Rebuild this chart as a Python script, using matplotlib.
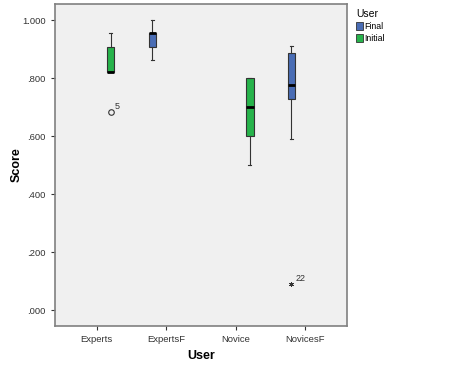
import matplotlib
matplotlib.use('Agg')
import matplotlib.pyplot as plt
from matplotlib.patches import Patch

plt.rcParams['font.family'] = ['Liberation Sans', 'DejaVu Sans']

# box stats
users = ['Experts', 'ExpertsF', 'Novice', 'NovicesF']
groups = ['Initial', 'Final', 'Initial', 'Final']
w_low = [0.821, 0.862, 0.499, 0.591]
q1 = [0.821, 0.908, 0.599, 0.728]
med = [0.821, 0.954, 0.701, 0.775]
q3 = [0.908, 0.956, 0.802, 0.885]
w_high = [0.954, 1.000, 0.802, 0.910]
outliers = [[0.683], [], [], [0.090]]
outlier_ids = [['5'], [], [], ['22']]
outlier_kind = ['o', None, None, '*']

yticks = [0.0, 0.2, 0.4, 0.6, 0.8, 1.0]
ytick_labels = ['.000', '.200', '.400', '.600', '.800', '1.000']

colors = {'Final': '#4a6db5', 'Initial': '#27b34b'}
offset = {'Final': -0.2, 'Initial': 0.2}

fig = plt.figure(figsize=(4.64, 3.72), dpi=100)
ax = fig.add_axes([0.1185, 0.1237, 0.6295, 0.865])
ax.set_facecolor('#f0f0f0')

for i in range(len(users)):
    g = groups[i]
    pos = i + offset[g]
    stats = [{'whislo': w_low[i], 'q1': q1[i], 'med': med[i],
              'q3': q3[i], 'whishi': w_high[i], 'fliers': []}]
    ax.bxp(stats, positions=[pos], widths=0.11, patch_artist=True,
           showfliers=False,
           boxprops=dict(facecolor=colors[g], edgecolor='#333333', linewidth=0.8),
           medianprops=dict(color='black', linewidth=2),
           whiskerprops=dict(color='#333333', linewidth=0.8),
           capprops=dict(color='#333333', linewidth=0.8), capwidths=0.05)
    for v, lab in zip(outliers[i], outlier_ids[i]):
        if outlier_kind[i] == 'o':
            ax.plot(pos, v, 'o', mfc='none', mec='#333333', ms=4, mew=0.8)
        else:
            ax.plot(pos, v, marker=(6, 2, 0), color='#333333', ms=3.5, mew=0.6)
        ax.annotate(lab, (pos, v), xytext=(3, 2), textcoords='offset points',
                    fontsize=6.5, color='#333333')

ax.set_xlim(-0.6, 3.6)
ax.set_ylim(-0.055, 1.055)
ax.set_xticks(range(len(users)))
ax.set_xticklabels(users, fontsize=6.8)
ax.set_yticks(yticks)
ax.set_yticklabels(ytick_labels, fontsize=6.8)
ax.tick_params(length=3, width=0.8, color='#333333', labelcolor='#333333')
for s in ax.spines.values():
    s.set_color('#808080')
    s.set_linewidth(1.2)
ax.set_xlabel('User', fontsize=9, fontweight='bold', labelpad=4)
ax.set_ylabel('Score', fontsize=9, fontweight='bold')
ax.yaxis.set_label_coords(-0.11, 0.5)

handles = [Patch(facecolor=colors['Final'], edgecolor='#333333', linewidth=0.6, label='Final'),
           Patch(facecolor=colors['Initial'], edgecolor='#333333', linewidth=0.6, label='Initial')]
leg = fig.legend(handles=handles, title='User', loc='upper left',
                 bbox_to_anchor=(0.752, 0.995), fontsize=6.3, title_fontsize=7.5,
                 frameon=False, handlelength=0.8, handleheight=0.9,
                 handletextpad=0.2, labelspacing=0.35, borderpad=0.3)
leg._legend_box.align = 'left'

fig.savefig('out.png', dpi=100)
